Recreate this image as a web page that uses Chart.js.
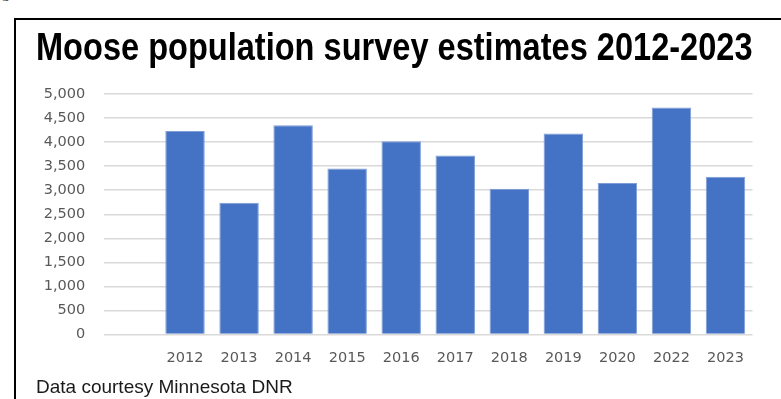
<!DOCTYPE html>
<html>
<head>
<meta charset="utf-8">
<script src="https://cdn.jsdelivr.net/npm/chart.js@4.4.1/dist/chart.umd.min.js"></script>
<style>
    html, body { margin: 0; padding: 0; background: #fff; overflow: hidden; }
    body { width: 781px; height: 399px; position: relative; }
    .cut { position: absolute; left: 2px; top: -15px; font: 15px 'Liberation Serif', serif; line-height: 16px; color: #222; }
    #frame { position: absolute; left: 14px; top: 18px; width: 765px; height: 379px;
             border-top: 2px solid #000; border-left: 2px solid #000; }
</style>
</head>
<body>
<div class="cut">g</div>
<div id="frame"><canvas id="ctx"></canvas></div>
<script>
// survey years and estimated moose counts
const years = ['2012', '2013', '2014', '2015', '2016', '2017', '2018', '2019', '2020', '2022', '2023'];
const estimates = [4230, 2740, 4350, 3450, 4020, 3720, 3030, 4180, 3150, 4720, 3280];
const yMin = 0, yMax = 5000, yStep = 500;

const titleText = 'Moose population survey estimates 2012-2023';
const sourceText = 'Data courtesy Minnesota DNR';

const tickFont = {family: "'DejaVu Sans', sans-serif", size: 14.5};

new Chart(document.getElementById('ctx'), {
    type: 'bar',
    data: {
        labels: years,
        datasets: [{
            label: 'Estimate',
            data: estimates,
            backgroundColor: '#4472c4',
            borderColor: '#7f9ed8',
            borderWidth: 1,
            barPercentage: 0.73,
            categoryPercentage: 1
        }]
    },
    options: {
        responsive: true,
        maintainAspectRatio: false,
        animation: false,
        layout: {padding: {left: 20, right: 28.5, top: 0, bottom: 0}},
        plugins: {
            legend: {display: false},
            tooltip: {enabled: false},
            title: {
                display: true,
                text: titleText,
                color: '#000',
                font: {family: "'Liberation Sans Narrow', 'Arial Narrow', sans-serif", size: 38, weight: 'bold', lineHeight: 1.2},
                padding: {top: 7, bottom: 21.4}
            },
            subtitle: {
                display: true,
                position: 'bottom',
                align: 'start',
                text: sourceText,
                color: '#1a1a1a',
                font: {family: "'Liberation Sans', Arial, sans-serif", size: 19, lineHeight: 1.2},
                padding: 0
            }
        },
        scales: {
            x: {
                grid: {display: false, drawTicks: false, tickLength: 0},
                border: {display: false},
                ticks: {color: '#595959', font: tickFont, padding: 15, maxRotation: 0},
                afterFit: function (scale) {
                    scale.height = 41.7;
                }
            },
            y: {
                min: yMin,
                max: yMax,
                grid: {color: '#d9d9d9', lineWidth: 1.5, drawTicks: true, tickLength: 54},
                border: {display: false},
                ticks: {
                    stepSize: yStep,
                    color: '#595959',
                    font: tickFont,
                    padding: 18.7,
                    callback: v => v.toLocaleString('en-US')
                },
                afterFit: function (scale) {
                    scale.width = 122;
                }
            }
        }
    }
});
</script>
</body>
</html>
